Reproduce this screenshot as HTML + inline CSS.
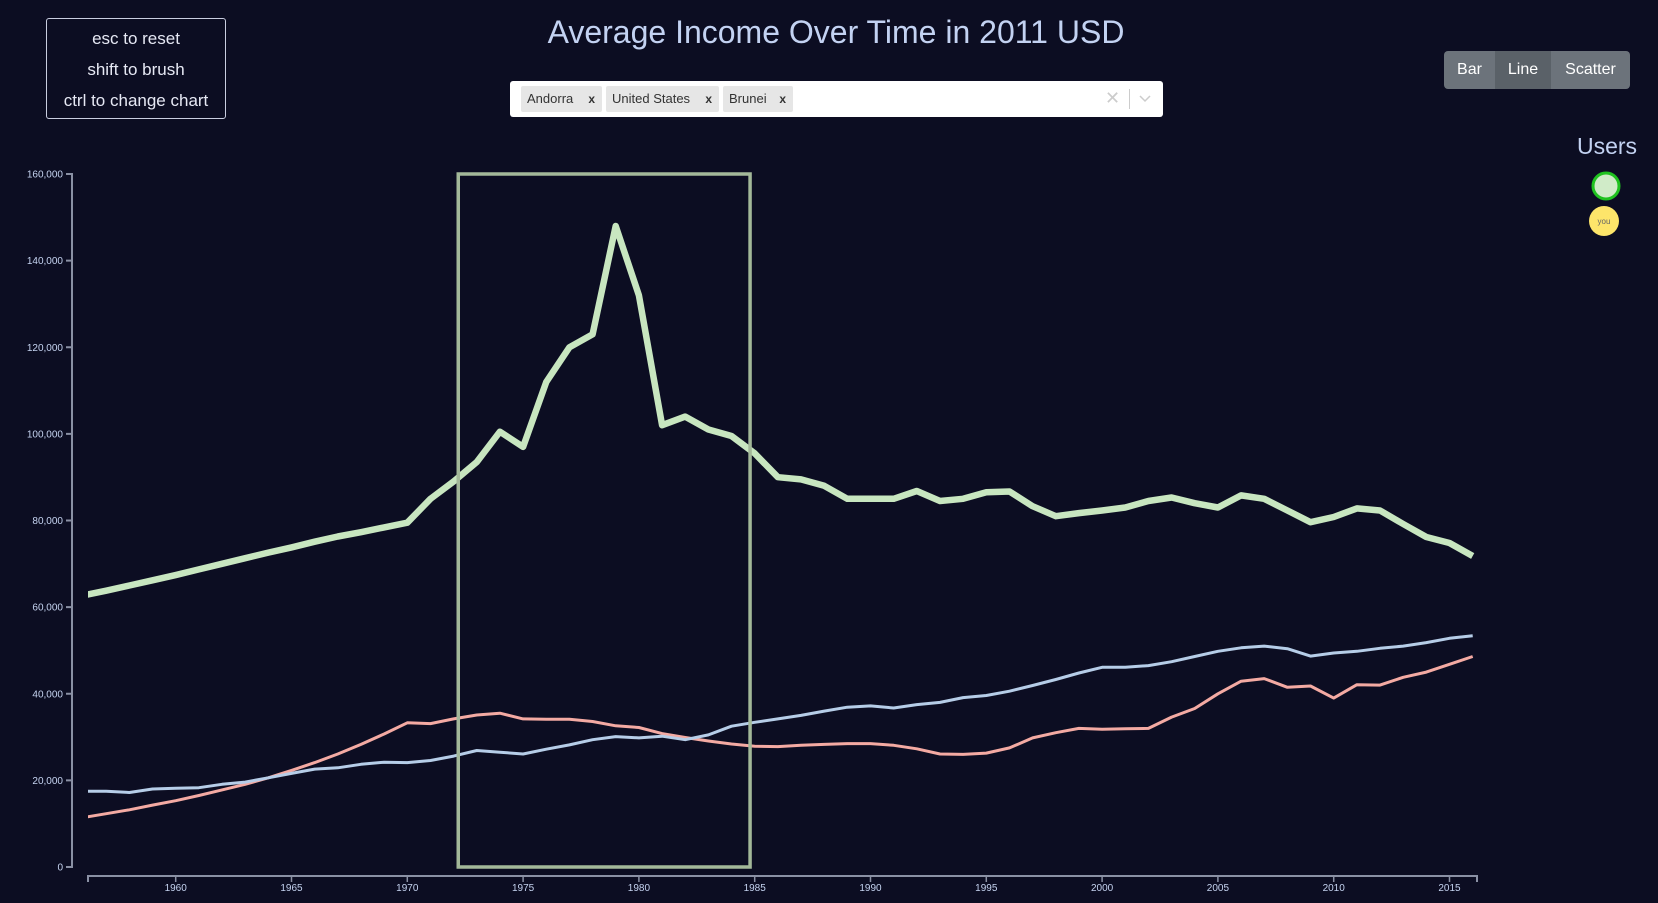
<!DOCTYPE html>
<html><head><meta charset="utf-8">
<style>
html,body{margin:0;padding:0;background:#0c0d22;width:1658px;height:903px;overflow:hidden;font-family:"Liberation Sans",sans-serif;}
.info{position:absolute;left:46px;top:18px;width:180px;height:101px;border:1px solid #c9cde0;border-radius:3px;box-sizing:border-box;color:#e6e8f4;font-size:17px;text-align:center;line-height:31px;padding-top:4px;}
.title{position:absolute;left:0;width:1672px;top:14px;text-align:center;color:#c3d2f2;font-size:32px;}
.sel{position:absolute;left:510px;top:81px;width:653px;height:36px;background:#fff;border-radius:3px;}
.chip{position:absolute;top:5px;height:26px;background:#e6e6e6;border-radius:2px;font-size:13px;color:#333;line-height:26px;padding-left:6px;box-sizing:border-box;}
.chip b{position:absolute;right:7px;top:0;font-size:12px;}
.btns{position:absolute;left:1444px;top:51px;height:38px;display:flex;border-radius:4px;overflow:hidden;}
.btns div{color:#fff;font-size:16px;line-height:38px;text-align:center;background:#6c737b;}
.users{position:absolute;left:1557px;width:100px;top:133px;text-align:center;color:#c3d2f2;font-size:23px;}
</style></head><body>
<div class="info"><div>esc to reset</div><div>shift to brush</div><div>ctrl to change chart</div></div>
<div class="title">Average Income Over Time in 2011 USD</div>
<div class="sel">
 <div class="chip" style="left:11px;width:81px">Andorra<b>x</b></div>
 <div class="chip" style="left:96px;width:113px">United States<b>x</b></div>
 <div class="chip" style="left:213px;width:70px">Brunei<b>x</b></div>
 <div style="position:absolute;left:595px;top:7px;color:#ccc;font-size:18px">✕</div>
 <div style="position:absolute;left:619px;top:8px;width:1px;height:20px;background:#ccc"></div>
 <svg style="position:absolute;left:628px;top:12px" width="14" height="12"><path d="M2 3 L7 8 L12 3" stroke="#ccc" stroke-width="1.5" fill="none"/></svg>
</div>
<div class="btns">
 <div style="width:51px">Bar</div>
 <div style="width:56px;background:#5a6168">Line</div>
 <div style="width:79px">Scatter</div>
</div>
<div class="users">Users</div>
<svg style="position:absolute;left:0;top:0" width="1658" height="903" id="ov">
 <circle cx="1606" cy="186" r="13" fill="#d0ebc8" stroke="#1fc21f" stroke-width="3"/>
 <circle cx="1604" cy="221" r="15" fill="#fde56a"/>
 <text x="1604" y="224" font-size="8" text-anchor="middle" fill="#666" font-family="Liberation Sans">you</text>
</svg>
<svg id="chart" style="position:absolute;left:0;top:0" width="1658" height="903"></svg>
<script>
const years=[];for(let y=1956;y<=2016;y++)years.push(y);
const brunei=[62.7,63.8,65,66.2,67.4,68.7,70,71.3,72.6,73.8,75.1,76.3,77.3,78.4,79.5,85,89,93.5,100.5,97,112,120,123,148,132,102,104,101,99.5,95.5,90,89.5,88,85,85,85,86.8,84.5,85,86.5,86.7,83.3,81,81.7,82.3,83,84.5,85.3,84,83,85.8,85,82.3,79.6,80.8,82.8,82.3,79.2,76.2,74.8,71.8];
const unitedStates=[17.5,17.5,17.2,18,18.2,18.3,19.1,19.6,20.6,21.6,22.6,22.9,23.7,24.2,24.1,24.6,25.6,26.9,26.5,26.1,27.2,28.2,29.4,30.1,29.8,30.2,29.4,30.5,32.5,33.4,34.2,35,36,36.9,37.2,36.7,37.5,38,39.1,39.6,40.6,41.9,43.3,44.8,46.1,46.1,46.5,47.4,48.6,49.8,50.6,51,50.4,48.7,49.4,49.8,50.5,51,51.8,52.8,53.4];
const andorra=[11.4,12.3,13.2,14.3,15.3,16.5,17.8,19.1,20.6,22.3,24.1,26.1,28.3,30.7,33.3,33.1,34.2,35.1,35.5,34.2,34.1,34.1,33.6,32.6,32.2,30.8,29.9,29.1,28.4,27.9,27.8,28.1,28.3,28.5,28.5,28.1,27.3,26.1,26,26.3,27.5,29.8,31,32,31.8,31.9,32,34.6,36.6,40,42.9,43.5,41.5,41.8,39,42.1,42,43.8,45,46.8,48.6];
const yTicks=[0,20000,40000,60000,80000,100000,120000,140000,160000];
const xTicks=[1960,1965,1970,1975,1980,1985,1990,1995,2000,2005,2010,2015];
const brushYears=[1972.2,1984.8];
const NS="http://www.w3.org/2000/svg";
const svg=document.getElementById('chart');
const X0=88,X1=1477,Y0=867,Y1=174;
const x=y=>175.7+(y-1960)*23.16;
const yv=v=>Y0-(v/160000)*(Y0-Y1);
function mk(t,a,p){const e=document.createElementNS(NS,t);for(const k in a)e.setAttribute(k,a[k]);(p||svg).appendChild(e);return e;}
const defs=mk('defs',{});const cp=mk('clipPath',{id:'clip'},defs);mk('rect',{x:X0,y:0,width:X1-X0,height:903},cp);
const ya=mk('path',{d:`M66,${Y1}H72V${Y0}H66`,stroke:'#8a90a4','stroke-width':2,fill:'none'});


yTicks.forEach(v=>{
 const t=mk('line',{x1:66,x2:72,y1:yv(v),y2:yv(v),stroke:'#8a90a4','stroke-width':2});
 
 
 const l=mk('text',{x:63,y:yv(v)+3.5,'text-anchor':'end','font-size':10,fill:'#c5d3f0','font-family':'Liberation Sans'});
 l.textContent=v.toLocaleString('en-US');
 
 
});
const xa=mk('path',{d:`M${X0},882V876H${X1}V882`,stroke:'#8a90a4','stroke-width':2,fill:'none'});


xTicks.forEach(v=>{
 const t=mk('line',{x1:x(v),x2:x(v),y1:876,y2:882,stroke:'#8a90a4','stroke-width':1.5});
 
 
 const l=mk('text',{x:x(v),y:891,'text-anchor':'middle','font-size':10,fill:'#c5d3f0','font-family':'Liberation Sans'});
 l.textContent=v;
 
 
});
function line(data,color,w,name){
 const d=data.map((v,i)=>(i?'L':'M')+x(years[i]).toFixed(1)+','+yv(v*1000).toFixed(1)).join('');
 const p=mk('path',{d,stroke:color,'stroke-width':w,fill:'none','stroke-linejoin':'round','clip-path':'url(#clip)'});
 
 
}
line(andorra,'#f4aaa3',3,'line-andorra');
line(unitedStates,'#b6cde8',3,'line-united-states');
line(brunei,'#c8e6c0',6.5,'line-brunei');
const br=mk('rect',{x:x(brushYears[0]),y:Y1,width:x(brushYears[1])-x(brushYears[0]),height:Y0-Y1,fill:'none',stroke:'#a3b899','stroke-width':3.5});


</script>
</body></html>
